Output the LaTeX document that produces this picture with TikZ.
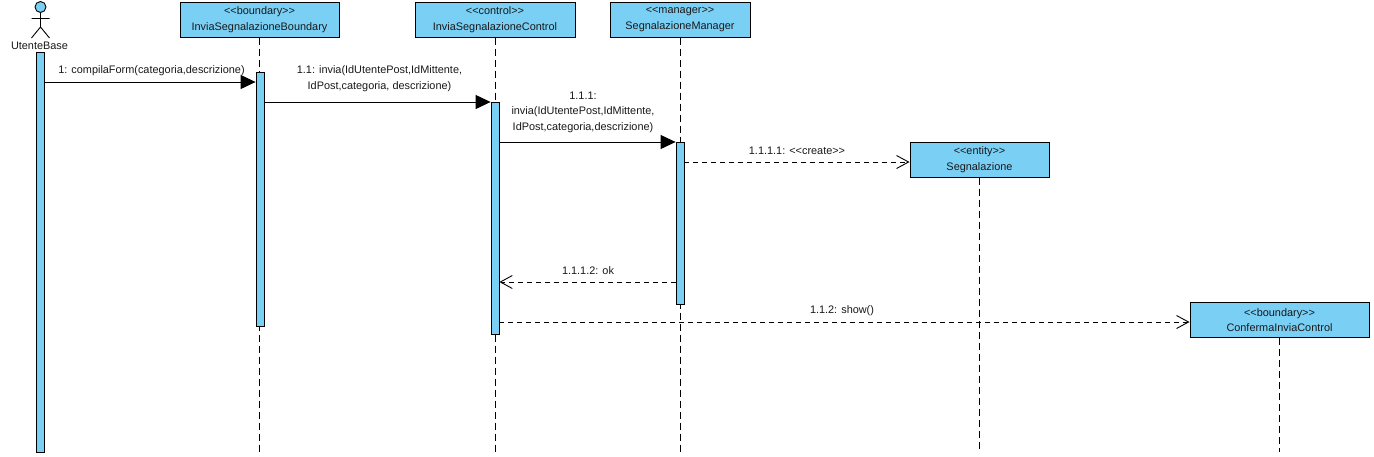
\documentclass[tikz,border=0pt]{standalone}
\usepackage{fontspec}
\setmainfont{Liberation Sans}
\usetikzlibrary{arrows.meta}
\definecolor{fillblue}{RGB}{122,207,245}
\definecolor{txtc}{RGB}{25,25,25}
\tikzset{
  x=1pt,y=-1pt,
  lbl/.style={font=\fontsize{10.9}{15.5}\selectfont,text=txtc,align=center,inner sep=0pt},
  objbox/.style={draw=black,fill=fillblue,line width=1pt,minimum height=35pt,inner sep=0pt,font=\fontsize{10.9}{15.5}\selectfont,text=txtc,align=center},
  activ/.style={draw=black,fill=fillblue,line width=0.8pt,minimum width=8pt,inner sep=0pt},
  lifeline/.style={draw=black,line width=0.9pt,dash pattern=on 7pt off 4pt},
  syncmsg/.style={draw=black,line width=1pt,-{Triangle[length=15pt,width=14pt]}},
  retmsg/.style={draw=black,line width=0.9pt,dash pattern=on 5pt off 4pt,-{Straight Barb[length=12pt,width=13pt,line width=0.9pt]}},
}
\begin{document}
\begin{tikzpicture}
\useasboundingbox (0,0) rectangle (1374,456);
\fill[white] (0,0) rectangle (1374,456);
% objects
\node[objbox,minimum width=159pt] (b) at (259.5,19.5) {<{}<boundary>{}>\\InviaSegnalazioneBoundary};
\node[objbox,minimum width=160pt] (c) at (495,19.5) {<{}<control>{}>\\InviaSegnalazioneControl};
\node[objbox,minimum width=140pt] (m) at (680,19.5) {<{}<manager>{}>\\SegnalazioneManager};
\node[objbox,minimum width=139pt] (s) at (979.5,159.5) {<{}<entity>{}>\\Segnalazione};
\node[objbox,minimum width=179pt] (f) at (1279.5,320) {<{}<boundary>{}>\\ConfermaInviaControl};
% lifeline ends
\coordinate (be) at (259.5,452);
\coordinate (ce) at (495,452);
\coordinate (me) at (680,452);
\coordinate (se) at (979.5,452);
\coordinate (fe) at (1279.5,452);
\draw[lifeline] (b.south) -- (be);
\draw[lifeline] (c.south) -- (ce);
\draw[lifeline] (m.south) -- (me);
\draw[lifeline] (s.south) -- (se);
\draw[lifeline] (f.south) -- (fe);
% actor
\draw[draw=black,fill=fillblue,line width=0.9pt] (40.5,7) circle (5.5pt);
\coordinate (ah) at (40.5,12.5);
\coordinate (ab) at (40.5,27);
\coordinate (al) at (31.5,38);
\coordinate (ar) at (49.5,38);
\coordinate (aa) at (31.5,18.5);
\coordinate (aa2) at (49.5,18.5);
\draw[black,line width=0.9pt] (ah) -- (ab) (al) -- (ab) -- (ar) (aa) -- (aa2);
\node[lbl] (an) at (39.5,45.5) {UtenteBase};
% activations
\node[activ,minimum height=400pt] (a0) at (40.5,252) {};
\node[activ,minimum height=254pt] (a1) at (260,199) {};
\node[activ,minimum height=232pt] (a2) at (495,218) {};
\node[activ,minimum height=162pt] (a3) at (680,223) {};
% messages
\draw[syncmsg] (a0.east |- 0,82) coordinate (m1s) -- (a1.west |- 0,82) coordinate (m1e);
\node[lbl] (l1) at (151.5,70.5) {1: compilaForm(categoria,descrizione)};
\draw[syncmsg] (a1.east |- 0,102) -- (a2.west |- 0,102);
\node[lbl] (l2) at (379.5,78.5) {1.1: invia(IdUtentePost,IdMittente,\\IdPost,categoria, descrizione)};
\draw[syncmsg] (a2.east |- 0,142) -- (a3.west |- 0,142);
\node[lbl] (l3) at (583,112) {1.1.1:\\invia(IdUtentePost,IdMittente,\\IdPost,categoria,descrizione)};
\draw[retmsg] (a3.east |- 0,162) -- (s.west |- 0,162);
\node[lbl] (l4) at (797,150.5) {1.1.1.1: <{}<create>{}>};
\draw[retmsg] (a3.west |- 0,282) -- (a2.east |- 0,282);
\node[lbl] (l5) at (588,270.5) {1.1.1.2: ok};
\draw[retmsg] (a2.east |- 0,322) -- (f.west |- 0,322);
\node[lbl] (l6) at (842,310.5) {1.1.2: show()};
\end{tikzpicture}
\end{document}
